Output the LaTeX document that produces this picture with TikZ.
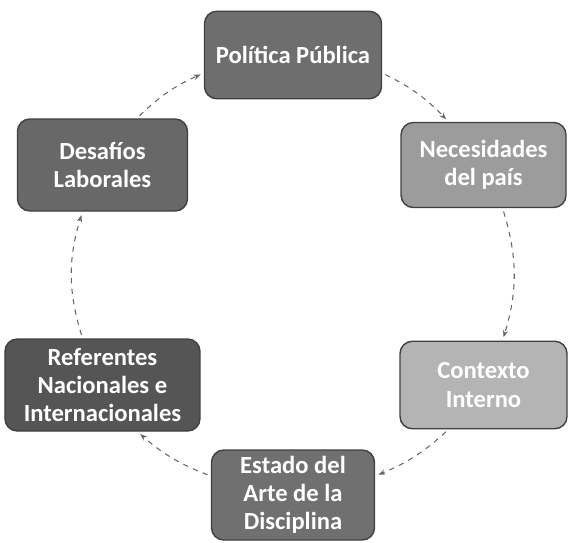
\documentclass[tikz,border=0pt]{standalone}
\usepackage{fontspec}
\setmainfont{Carlito}
\usetikzlibrary{arrows.meta}

\definecolor{grisPol}{HTML}{6E6E6E}
\definecolor{grisNec}{HTML}{9C9C9C}
\definecolor{grisDes}{HTML}{686868}
\definecolor{grisRef}{HTML}{555555}
\definecolor{grisCon}{HTML}{B4B4B4}
\definecolor{grisEst}{HTML}{707070}

\tikzset{
  caja/.style={draw=black!75, line width=0.8pt, rounded corners=7pt,
    minimum width=3.4cm, minimum height=1.75cm, align=center, text=white,
    font=\bfseries\fontsize{14}{16}\selectfont, inner sep=2pt},
  ciclo/.style={draw=black!60, dashed, line width=0.6pt,
    -{Stealth[length=4pt]}, shorten <=2pt, shorten >=2pt}
}

\begin{document}
\begin{tikzpicture}
            \useasboundingbox (-5.86, -5.34) rectangle (5.52, 5.5);

            \path (90: 4.4) coordinate (P);
            \path (30: 4.4) coordinate (N);
            \path (-30: 4.4) coordinate (C);
            \path (-90: 4.4) coordinate (E);
            \path (-150: 4.4) coordinate (R);
            \path (150: 4.4) coordinate (D);

            \node[caja, fill=grisPol, minimum width=3.54cm] (politica) at (P) {Política Pública};
            \node[caja, fill=grisNec, minimum width=3.3cm, minimum height=1.7cm] (necesidades) at (N) {Necesidades\\del país};
            \node[caja, fill=grisCon, minimum width=3.34cm] (contexto) at (C) {Contexto\\Interno};
            \node[caja, fill=grisEst, minimum width=3.26cm, minimum height=1.8cm] (estado) at (E) {Estado del\\Arte de la\\Disciplina};
            \node[caja, fill=grisRef, minimum width=3.9cm, minimum height=1.84cm] (referentes) at (R) {Referentes\\Nacionales e\\Internacionales};
            \node[caja, fill=grisDes, minimum height=1.84cm] (desafios) at (D) {Desafíos\\Laborales};

            \draw[ciclo] ([xshift=0.69cm]desafios.north) to[bend left=10] ([yshift=-0.36cm]politica.west);
            \draw[ciclo] ([yshift=-0.36cm]politica.east) to[bend left=10] ([xshift=-0.7cm]necesidades.north);
            \draw[ciclo] ([xshift=0.38cm]necesidades.south) to[bend left=17] ([xshift=0.38cm]contexto.north);
            \draw[ciclo] ([xshift=-0.7cm]contexto.south) to[bend left=10] ([yshift=0.38cm]estado.east);
            \draw[ciclo] ([yshift=0.38cm]estado.west) to[bend left=10] ([xshift=0.7cm]referentes.south);
            \draw[ciclo] ([xshift=-0.4cm]referentes.north) to[bend left=17] ([xshift=-0.4cm]desafios.south);
        \end{tikzpicture}
\end{document}
